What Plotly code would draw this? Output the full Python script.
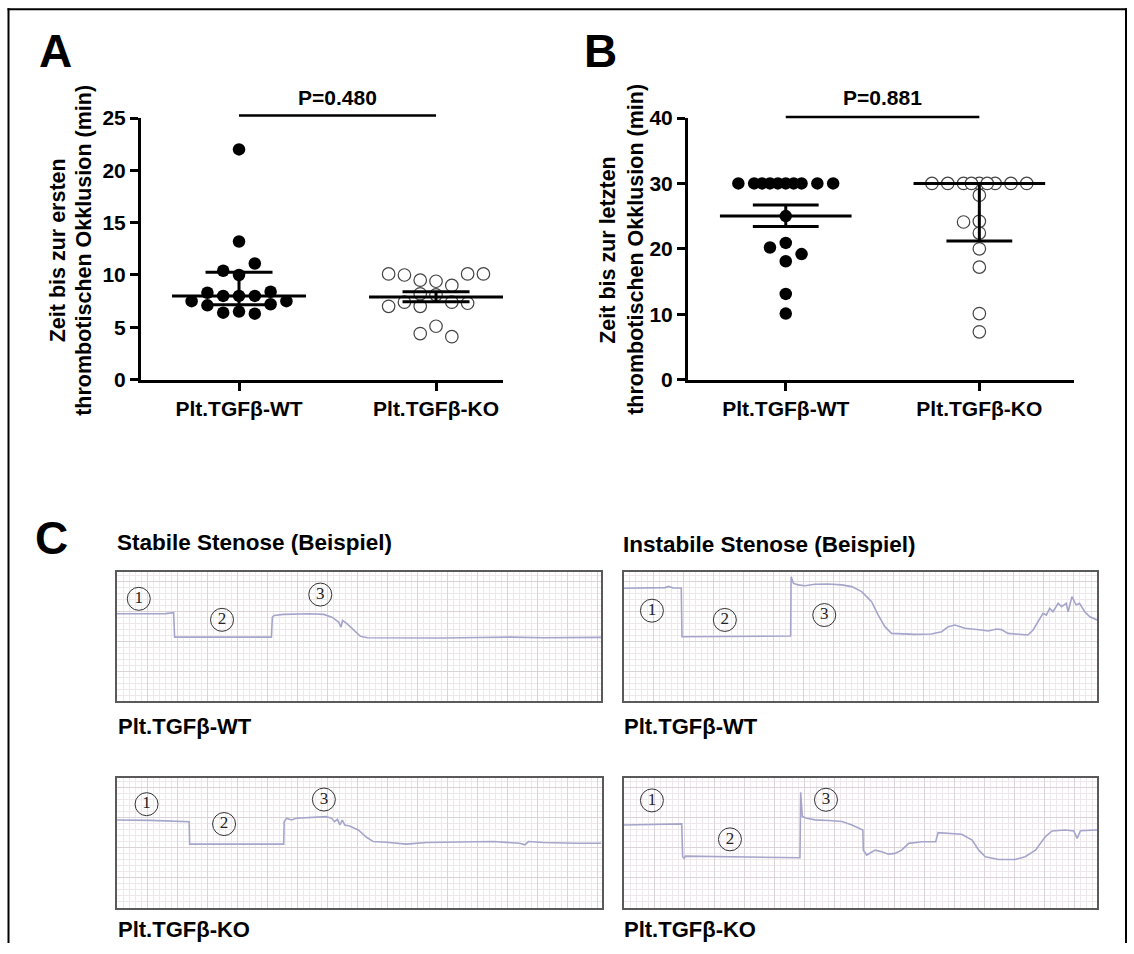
import math
import statistics
import plotly.graph_objects as go

W, H = 1134, 954

# ---------------- data ----------------
groups = ["Plt.TGFβ-WT", "Plt.TGFβ-KO"]

# A: time to first thrombotic occlusion (min)
first_wt = [22.0, 13.2, 11.1, 10.4, 10.0, 8.4, 8.3, 8.0, 8.0, 8.0,
            7.5, 7.5, 7.2, 7.1, 6.5, 6.4, 6.3]
first_ko = [10.1, 10.1, 10.1, 10.0, 9.5, 9.4, 9.0, 8.2, 8.1, 7.4,
            7.4, 7.3, 7.0, 7.0, 5.1, 4.4, 4.1]
first_center = [8.0, 7.9]
first_lower = [7.15, 7.45]
first_upper = [10.25, 8.4]
first_p = "P=0.480"

# B: time to last thrombotic occlusion (min)
last_wt = [30.0, 30.0, 30.0, 30.0, 30.0, 30.0, 30.0, 30.0, 30.0, 30.0,
           25.0, 20.9, 20.2, 19.2, 18.1, 13.1, 10.1]
last_ko = [30.0, 30.0, 30.0, 30.0, 30.0, 30.0, 30.0, 30.0, 30.0,
           28.2, 24.2, 24.1, 22.4, 20.0, 17.2, 10.1, 7.3]
last_center = [25.0, 30.0]
last_lower = [23.4, 21.2]
last_upper = [26.7, 30.0]
last_p = "P=0.881"

# C: flow recordings (time and flow as % of the recording window)
stable_wt_t = [0, 6, 10, 11.7, 11.9, 31.9, 32.1, 32.5, 34.4, 39.9, 42.7, 44.4, 45.8,
               46.3, 46.6, 47.5, 48.9, 50.3, 51.7, 60, 67.5, 75, 81.3, 88, 95, 100]
stable_wt_v = [67.8, 68.2, 67.9, 68.6, 49.7, 49.7, 65.2, 66.5, 67.3, 67.8, 67.3, 65.2, 61.3,
               57.5, 62.6, 60.1, 54.9, 50.3, 49.2, 49.0, 49.0, 49.4, 49.7, 49.2, 49.2, 49.5]

instable_wt_t = [0, 8.8, 9.5, 10.5, 12.2, 12.35, 35.3, 35.4, 35.9, 36.9, 38.3, 40.4, 43.2,
                 46.1, 48.2, 50.3, 52.4, 53.8, 55.2, 56.6, 61.5, 65.0, 67.2, 68.6, 70.0,
                 72.1, 75.6, 77.0, 78.8, 79.8, 81.2, 85.4, 86.5, 87.6, 88.6, 89.3, 90.0,
                 90.7, 91.8, 92.5, 93.5, 93.9, 94.7, 95.6, 96.3, 97.4, 98.5, 100]
instable_wt_v = [87.6, 88.1, 89.0, 87.8, 87.8, 50.0, 50.5, 96.6, 91.5, 90.2, 89.6, 90.7, 90.9,
                 90.2, 88.9, 85.0, 77.2, 66.8, 57.8, 52.6, 51.8, 52.1, 53.9, 57.8, 59.1,
                 56.5, 55.2, 54.4, 56.0, 55.5, 52.6, 51.3, 55.2, 61.7, 68.1, 66.8, 72.0,
                 69.4, 75.9, 73.3, 75.9, 69.4, 81.1, 74.6, 76.0, 69.4, 65.5, 63.0]

stable_ko_t = [0, 7, 14.9, 15.0, 34.4, 34.5, 35.0, 36.0, 37.0, 39.8, 43.2, 44.3, 44.9,
               45.5, 46.0, 46.5, 47.0, 48.0, 49.8, 51.5, 52.9, 55.6, 59.7, 63.9, 70.8,
               77.6, 83.1, 84.2, 84.9, 88.0, 94.8, 100]
stable_ko_v = [67.6, 67.3, 66.3, 49.0, 49.0, 66.3, 68.9, 67.6, 68.9, 69.4, 70.2, 68.9, 66.3,
               68.1, 63.8, 67.6, 63.8, 63.0, 59.9, 54.3, 51.0, 50.5, 49.0, 50.3, 50.8,
               51.0, 49.7, 48.5, 51.0, 50.3, 49.7, 49.7]

instable_ko_t = [0, 6, 12.2, 12.4, 12.7, 13.0, 37.2, 37.35, 37.7, 38.6, 40.4, 43.2, 46.1,
                 48.2, 49.9, 50.5, 50.6, 51.3, 53.1, 54.5, 55.9, 57.3, 58.7, 60.2, 63.0,
                 65.9, 66.4, 68.6, 71.4, 73.6, 75.0, 76.4, 79.2, 82.7, 84.8, 87.0, 89.1,
                 90.5, 93.3, 95.1, 95.8, 96.5, 100]
instable_ko_v = [63.8, 64.3, 64.6, 39.3, 38.0, 39.8, 38.5, 88.9, 70.3, 69.0, 67.7, 67.2, 66.4,
                 63.8, 61.2, 59.9, 44.4, 40.6, 44.4, 43.2, 41.3, 41.9, 44.4, 49.6, 50.9,
                 50.9, 57.9, 57.4, 56.6, 52.2, 44.4, 39.3, 37.2, 37.2, 39.3, 44.4, 54.8,
                 59.2, 59.9, 59.2, 53.5, 59.4, 59.9]

phase_labels = ["1", "2", "3"]

# ---------------- layout constants ----------------
ARIAL = "Liberation Sans, Arial, sans-serif"

# vertical placement: the drawing area starts TOP_PX below the window top and
# spans SPAN_PX pixels
TOP_PX = 10.8
SPAN_PX = 932.5


def fx(px):
    return px / W


def fy(py):
    return 1 - (py - TOP_PX) / SPAN_PX


# scatter panels: pixel boxes and axis ranges
panel_a = dict(x0=141, x1=503, y0=117, y1=379, xr=[-0.4975, 1.34], yr=[0, 25], dtick=5)
panel_b = dict(x0=688, x1=1074, y0=117, y1=379, xr=[-0.505, 1.489], yr=[0, 40], dtick=10)


def swarm_offsets(values, panel, step_px=15.8, min_px=11.7):
    """Spread points horizontally so the symbols do not overlap (beeswarm)."""
    ppu_y = (panel["y1"] - panel["y0"]) / (panel["yr"][1] - panel["yr"][0])
    ppu_x = (panel["x1"] - panel["x0"]) / (panel["xr"][1] - panel["xr"][0])
    med = statistics.median(values)
    order = sorted(range(len(values)), key=lambda i: (abs(values[i] - med), values[i]))
    full = [0, -1, 1, -2, 2, -3, 3]
    half = [-0.5, 0.5, -1.5, 1.5, -2.5, 2.5]
    placed = []
    slots = [0.0] * len(values)
    for i in order:
        y = values[i] * ppu_y

        def clear(c):
            return all(math.hypot((c - s) * step_px, y - yy) >= min_px for s, yy in placed)

        chosen = next((c for c in full if clear(c)), None)
        if chosen is None:
            chosen = max(half, key=lambda c: min(math.hypot((c - s) * step_px, y - yy)
                                                 for s, yy in placed))
        placed.append((chosen, y))
        slots[i] = chosen
    return [s * step_px / ppu_x for s in slots]


fig = go.Figure()


def add_dot_panel(panel, xa, ya, wt, ko, center, lower, upper):
    for gi, vals in enumerate([wt, ko]):
        offs = swarm_offsets(vals, panel)
        filled = gi == 0
        fig.add_trace(go.Scatter(
            x=[gi + o for o in offs], y=vals, mode="markers",
            xaxis=xa, yaxis=ya, cliponaxis=False, showlegend=False, hoverinfo="skip",
            marker=dict(size=12.5, symbol="circle",
                        color="black" if filled else "white",
                        line=dict(color="black" if filled else "#444444",
                                  width=0 if filled else 1.2)),
        ))
    lx, ly = [], []
    for gi in range(2):
        lx += [gi - 0.34, gi + 0.34, None]
        ly += [center[gi], center[gi], None]
        lx += [gi - 0.17, gi + 0.17, None]
        ly += [lower[gi], lower[gi], None]
        lx += [gi - 0.17, gi + 0.17, None]
        ly += [upper[gi], upper[gi], None]
        lx += [gi, gi, None]
        ly += [lower[gi], upper[gi], None]
    fig.add_trace(go.Scatter(x=lx, y=ly, mode="lines", xaxis=xa, yaxis=ya,
                             line=dict(color="black", width=3), showlegend=False,
                             hoverinfo="skip", cliponaxis=False))


add_dot_panel(panel_a, "x", "y", first_wt, first_ko, first_center, first_lower, first_upper)
add_dot_panel(panel_b, "x2", "y2", last_wt, last_ko, last_center, last_lower, last_upper)

# flow recordings
rec_boxes = [
    dict(x0=117, x1=601, y0=572, y1=701, t=stable_wt_t, v=stable_wt_v,
         lab=[(4.5, 79.4), (21.7, 63.1), (42.0, 82.7)]),
    dict(x0=623.5, x1=1097, y0=572, y1=701, t=instable_wt_t, v=instable_wt_v,
         lab=[(6.0, 70.2), (21.4, 63.0), (42.4, 66.8)]),
    dict(x0=117, x1=601.5, y0=778, y1=908, t=stable_ko_t, v=stable_ko_v,
         lab=[(6.1, 79.8), (22.1, 64.5), (42.7, 83.4)]),
    dict(x0=624, x1=1097, y0=778, y1=908, t=instable_ko_t, v=instable_ko_v,
         lab=[(5.9, 82.7), (22.4, 52.7), (42.7, 83.2)]),
]

for k, box in enumerate(rec_boxes):
    n = k + 3
    xa, ya = f"x{n}", f"y{n}"
    fig.add_trace(go.Scatter(x=box["t"], y=box["v"], mode="lines", xaxis=xa, yaxis=ya,
                             line=dict(color="#a5a5cc", width=1.6), showlegend=False,
                             hoverinfo="skip"))
    fig.add_trace(go.Scatter(
        x=[p[0] for p in box["lab"]], y=[p[1] for p in box["lab"]],
        text=phase_labels, mode="markers+text", textposition="middle center",
        xaxis=xa, yaxis=ya, showlegend=False, hoverinfo="skip", cliponaxis=False,
        marker=dict(size=23, symbol="circle-open", color="#333333", line=dict(width=1)),
        textfont=dict(family="Liberation Serif, serif", size=17, color="#222222"),
    ))

# ---------------- axes ----------------
layout_axes = {}
TICKFONT = dict(family=ARIAL, size=21, color="black", weight="bold")


def dot_axes(panel, xkey, ykey, yanchor, xanchor):
    layout_axes[xkey] = dict(
        domain=[fx(panel["x0"]), fx(panel["x1"])], range=panel["xr"], anchor=yanchor,
        showline=True, linecolor="black", linewidth=3, ticks="outside", ticklen=8,
        tickwidth=3, tickcolor="black", tickvals=[0, 1], ticktext=groups,
        tickfont=TICKFONT, showgrid=False, zeroline=False, fixedrange=True)
    layout_axes[ykey] = dict(
        domain=[fy(panel["y1"]), fy(panel["y0"])], range=panel["yr"], anchor=xanchor,
        showline=True, linecolor="black", linewidth=3, ticks="outside", ticklen=8,
        tickwidth=3, tickcolor="black", dtick=panel["dtick"], tick0=0,
        tickfont=TICKFONT, showgrid=False, zeroline=False, fixedrange=True)


dot_axes(panel_a, "xaxis", "yaxis", "y", "x")
dot_axes(panel_b, "xaxis2", "yaxis2", "y2", "x2")

CELL_PX = 6.0
for k, box in enumerate(rec_boxes):
    n = k + 3
    wpx = box["x1"] - box["x0"]
    hpx = box["y1"] - box["y0"]
    dx = CELL_PX / wpx * 100
    dy = CELL_PX / hpx * 100
    common = dict(showline=True, mirror=True, linecolor="#5a5a5a", linewidth=1.5,
                  ticks="", showticklabels=False, zeroline=False, fixedrange=True,
                  showgrid=True, gridcolor="#dcd3d9", gridwidth=1,
                  range=[0, 100], tick0=0)
    layout_axes[f"xaxis{n}"] = dict(
        common, domain=[fx(box["x0"]), fx(box["x1"])], anchor=f"y{n}", dtick=5 * dx,
        minor=dict(dtick=dx, tick0=0, showgrid=True, gridcolor="#eee8ec", gridwidth=1))
    layout_axes[f"yaxis{n}"] = dict(
        common, domain=[fy(box["y1"]), fy(box["y0"])], anchor=f"x{n}", dtick=5 * dy,
        minor=dict(dtick=dy, tick0=0, showgrid=True, gridcolor="#eee8ec", gridwidth=1))

# ---------------- text ----------------
ann = []


def text(x, y, s, size, family=ARIAL, xanchor="center", angle=0, xref="paper", yref="paper"):
    ann.append(dict(x=x, y=y, xref=xref, yref=yref, text=s, showarrow=False,
                    xanchor=xanchor, yanchor="middle", textangle=angle,
                    font=dict(family=family, size=size, color="black", weight="bold")))


text(fx(55), fy(50), "A", 46)
text(fx(600), fy(50), "B", 46)
text(fx(51), fy(538), "C", 46)

# y-axis titles
text(fx(57.5), fy(250), "Zeit bis zur ersten", 21.5, angle=-90)
text(fx(84), fy(250), "thrombotischen Okklusion (min)", 21.5, angle=-90)
text(fx(608), fy(249), "Zeit bis zur letzten", 21.5, angle=-90)
text(fx(636), fy(249), "thrombotischen Okklusion (min)", 21.5, angle=-90)

# significance labels
text(0.5, fy(96), first_p, 21, xref="x")
text(0.5, fy(96), last_p, 21, xref="x2")

# panel C titles and group labels
text(fx(115), fy(542), "Stabile Stenose (Beispiel)", 22.5, xanchor="left")
text(fx(621), fy(544), "Instabile Stenose (Beispiel)", 22.5, xanchor="left")
text(fx(116), fy(726), groups[0], 22, xanchor="left")
text(fx(622), fy(726), groups[0], 22, xanchor="left")
text(fx(116), fy(930), groups[1], 22, xanchor="left")
text(fx(622), fy(930), groups[1], 22, xanchor="left")

shapes = [
    # significance bars
    dict(type="line", xref="x", yref="paper", x0=0, x1=1, y0=fy(114.5), y1=fy(114.5),
         line=dict(color="black", width=2.5)),
    dict(type="line", xref="x2", yref="paper", x0=0, x1=1, y0=fy(116), y1=fy(116),
         line=dict(color="black", width=2.5)),
    # outer frame (open at the bottom)
    dict(type="line", xref="paper", yref="paper", x0=fx(8.5), x1=fx(8.5), y0=fy(7), y1=0,
         line=dict(color="black", width=2)),
    dict(type="line", xref="paper", yref="paper", x0=fx(7.5), x1=fx(1127), y0=fy(8), y1=fy(8),
         line=dict(color="black", width=2)),
    dict(type="line", xref="paper", yref="paper", x0=fx(1126), x1=fx(1126), y0=fy(7), y1=0,
         line=dict(color="black", width=2)),
]

fig.update_layout(
    width=W, height=H, margin=dict(l=0, r=0, t=0, b=0, pad=0), autosize=False,
    paper_bgcolor="white", plot_bgcolor="white", showlegend=False,
    annotations=ann, shapes=shapes, hovermode=False,
    **layout_axes,
)

fig.write_html("out.html", config={"displayModeBar": False})
